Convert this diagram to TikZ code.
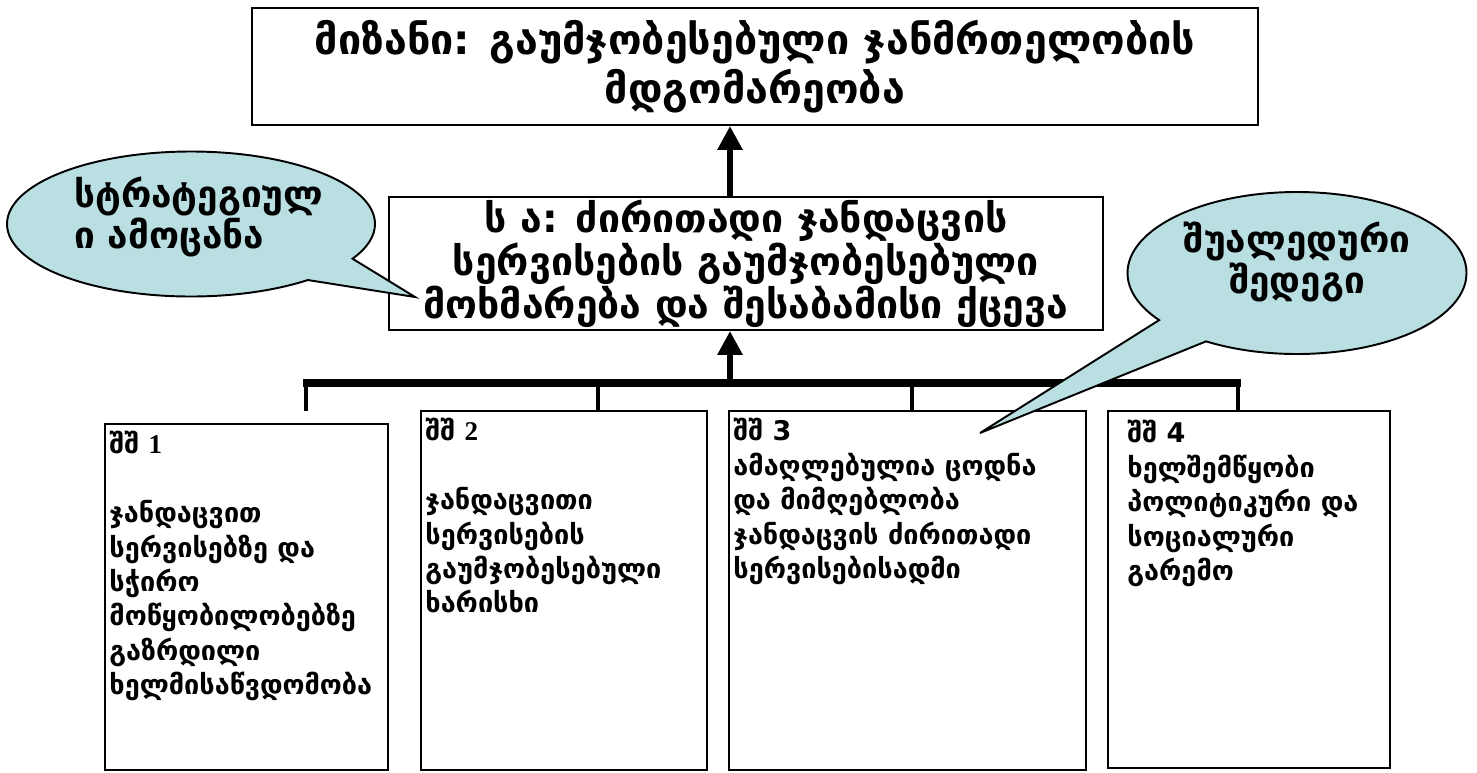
\documentclass[tikz,border=0pt]{standalone}
\usepackage{fontspec}
\setmainfont{DejaVu Sans}
\newfontfamily\numserif{Liberation Serif}
\usetikzlibrary{arrows.meta,shapes.callouts}
\definecolor{bubble}{RGB}{185,223,227}
\newcommand\pxu{0.02cm}

\begin{document}
\begin{tikzpicture}[x=0.02cm,y=-0.02cm,
  frame/.style={draw, line width=1.1pt, inner sep=0pt},
  headtext/.style={align=center, font=\bfseries\fontsize{23.5}{28}\selectfont},
  midtext/.style={align=center, font=\bfseries\fontsize{22.3}{24.4}\selectfont},
  celltext/.style={anchor=north west, inner sep=0pt, align=left,
                   font=\bfseries\fontsize{15.4}{19.6}\selectfont},
  bubbletext/.style={inner sep=0pt, font=\bfseries\fontsize{21}{20.5}\selectfont},
  bubbleshape/.style={ellipse callout, draw, fill=bubble, line width=1.1pt,
                      inner sep=0pt, callout pointer arc=22},
  uparrow/.style={line width=3.4pt, -{Triangle[width=13.6pt,length=13.6pt]}},
  busline/.style={line width=4.5pt},
  dropline/.style={line width=2.8pt}
]
\useasboundingbox (0,0) rectangle (1477,772);

% goal and purpose
\node[frame, headtext, minimum width=1006*\pxu, minimum height=117*\pxu] (goal)
  at (755,66.5) {მიზანი: გაუმჯობესებული ჯანმრთელობის\\მდგომარეობა};
\node[frame, midtext, minimum width=714*\pxu, minimum height=133*\pxu] (purpose)
  at (746,263.5) {ს ა: ძირითადი ჯანდაცვის\\სერვისების გაუმჯობესებული\\მოხმარება და შესაბამისი ქცევა};

% intermediate result boxes
\node[frame, minimum width=283*\pxu, minimum height=346*\pxu] (r1) at (246.5,597) {};
\node[frame, minimum width=286*\pxu, minimum height=359*\pxu] (r2) at (564,590.5) {};
\node[frame, minimum width=357*\pxu, minimum height=359*\pxu] (r3) at (907.5,590.5) {};
\node[frame, minimum width=282*\pxu, minimum height=357*\pxu] (r4) at (1249,589.5) {};

\node[celltext] (r1t) at ([shift={(5,8)}]r1.north west)
  {შშ {\numserif 1}\\[19.6pt]ჯანდაცვით\\სერვისებზე და\\სჭირო\\მოწყობილობებზე\\გაზრდილი\\ხელმისაწვდომობა};
\node[celltext] (r2t) at ([shift={(5,8)}]r2.north west)
  {შშ {\numserif 2}\\[19.6pt]ჯანდაცვითი\\სერვისების\\გაუმჯობესებული\\ხარისხი};
\node[celltext] (r3t) at ([shift={(5,8)}]r3.north west)
  {შშ 3\\ამაღლებულია ცოდნა\\და მიმღებლობა\\ჯანდაცვის ძირითადი\\სერვისებისადმი};
\node[celltext] (r4t) at ([shift={(20,10)}]r4.north west)
  {შშ 4\\ხელშემწყობი\\პოლიტიკური და\\სოციალური\\გარემო};

% bus joining the four results
\coordinate (spine) at (730,383);
\coordinate (busL) at (303,383);
\coordinate (busR) at (1241,383);
\coordinate (d1) at (306,411);
\coordinate (d2) at (598,411);
\coordinate (d3) at (912,411);
\coordinate (d4) at (1238,411);
\draw[busline] (busL) -- (busR);
\foreach \d in {d1,d2,d3,d4}
  \draw[dropline] (\d |- spine) -- (\d);

% arrows up the chain
\draw[uparrow] (spine) -- (spine |- purpose.south);
\draw[uparrow] (spine |- purpose.north) -- (spine |- goal.south);

% speech bubbles
\coordinate (tipL) at (415,297);
\coordinate (tipR) at (980,433);
\node[bubbleshape, minimum width=368*\pxu, minimum height=145*\pxu,
      callout absolute pointer={(tipL)}] (noteL) at (191,224) {};
\node[bubbletext, anchor=north west, align=left] (noteLt) at (74,177)
  {სტრატეგიულ\\ი ამოცანა};
\node[bubbleshape, minimum width=339*\pxu, minimum height=162*\pxu,
      callout absolute pointer={(tipR)}] (noteR) at (1297,273) {};
\node[bubbletext, align=center] (noteRt) at (1297,262) {შუალედური\\შედეგი};
\end{tikzpicture}
\end{document}
